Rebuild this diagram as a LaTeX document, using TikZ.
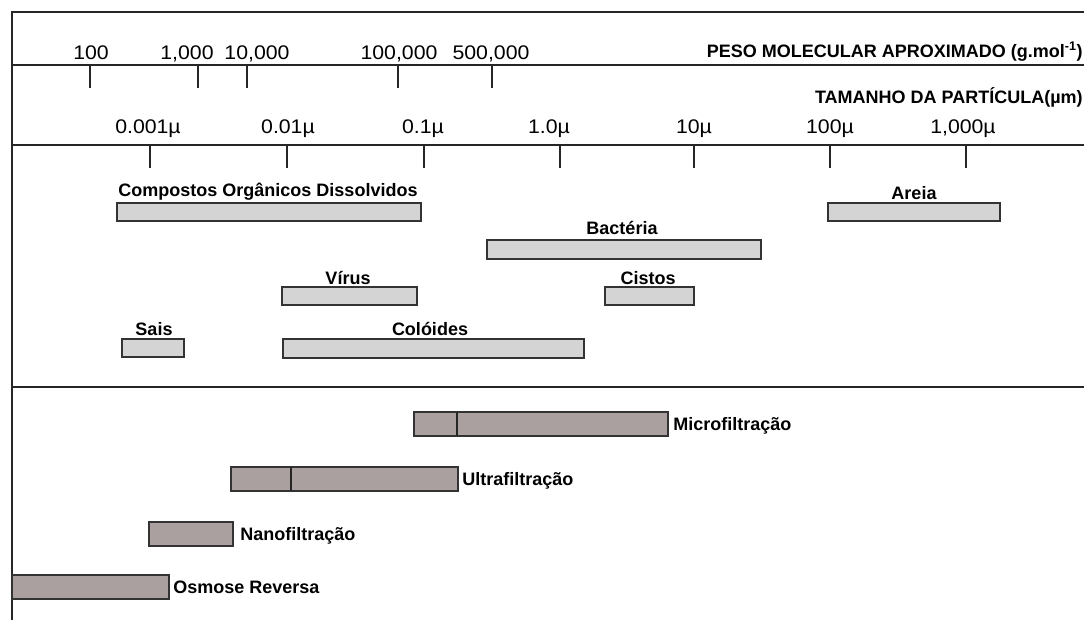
\documentclass[tikz,border=0pt]{standalone}
\usepackage{fontspec}
\setmainfont{Liberation Sans}
\newfontfamily\numfont[FakeStretch=1.08]{Liberation Sans}
\usepackage{xcolor}
\usepackage{tikz}
\usetikzlibrary{calc}

\definecolor{partfill}{RGB}{212,212,212}
\definecolor{filtfill}{RGB}{170,160,160}
\tikzset{
  rule/.style={line width=1.4pt, draw=black!85},
  tick/.style={line width=1.3pt, draw=black!85},
  partbar/.style={fill=partfill, draw=black!80, line width=1.2pt},
  filtbar/.style={fill=filtfill, draw=black!80, line width=1.3pt},
  lbl/.style={font=\fontsize{12.8}{14}\selectfont\bfseries, inner sep=0pt, anchor=base},
  num/.style={font=\fontsize{14}{16}\selectfont\numfont, inner sep=0pt, anchor=base}
}

\begin{document}
\begin{tikzpicture}[x=0.025cm, y=-0.025cm]
            \useasboundingbox (0,0) rectangle (1084,620);
            \draw[rule] (12,620) -- (12,12) -- (1084,12);
            \draw[rule] (12,65) -- (1084,65);
            \draw[rule] (12,145) -- (1084,145);
            \draw[rule] (12,387) -- (1084,387);

            \foreach \x/\lx/\t [count=\i] in {90/91/100, 198/187/{1,000}, 247/257/{10,000}, 398/399/{100,000}, 492/491/{500,000}}
            {\draw[tick] (\x,65) -- (\x,88);
             \node[num] (mw\i) at (\lx,59) {\t};}
            \node[lbl, anchor=base east] (mwtitle) at (1083,57) {PESO MOLECULAR APROXIMADO (g.mol\textsuperscript{-1})};

            \foreach \x/\lx/\t [count=\i] in {150/148/0.001µ, 287/288/0.01µ, 424/423/0.1µ, 560/549/1.0µ, 694/694/10µ, 830/830/100µ, 966/963/{1,000µ}}
            {\draw[tick] (\x,145) -- (\x,168);
             \node[num] (ps\i) at (\lx,133) {\t};}
            \node[lbl, anchor=base east] (pstitle) at (1083,103) {TAMANHO DA PARTÍCULA(µm)};

            \draw[partbar] (117,203) rectangle (421,221);
            \node[lbl] (cod) at (268,196) {Compostos Orgânicos Dissolvidos};
            \draw[partbar] (828,203) rectangle (1000,221);
            \node[lbl] (areia) at (914,199) {Areia};
            \draw[partbar] (487,240) rectangle (761,259);
            \node[lbl] (bact) at (622,234) {Bactéria};
            \draw[partbar] (282,287) rectangle (417,305);
            \node[lbl] (virus) at (348,284) {Vírus};
            \draw[partbar] (605,287) rectangle (694,305);
            \node[lbl] (cistos) at (648,284) {Cistos};
            \draw[partbar] (122,339) rectangle (184,357);
            \node[lbl] (sais) at (154,335) {Sais};
            \draw[partbar] (283,339) rectangle (584,358);
            \node[lbl] (coloides) at (430,335) {Colóides};

            \draw[filtbar] (414,412) rectangle (668,436);
            \draw[tick] (457,412) -- (457,436);
            \node[lbl, anchor=base west] (micro) at (673,430) {Microfiltração};
            \draw[filtbar] (231,467) rectangle (458,491);
            \draw[tick] (291,467) -- (291,491);
            \node[lbl, anchor=base west] (ultra) at (462,485) {Ultrafiltração};
            \draw[filtbar] (149,522) rectangle (233,546);
            \node[lbl, anchor=base west] (nano) at (240,540) {Nanofiltração};
            \draw[filtbar] (12,575) rectangle (169,599);
            \node[lbl, anchor=base west] (osmose) at (173,593) {Osmose Reversa};
        \end{tikzpicture}
\end{document}
